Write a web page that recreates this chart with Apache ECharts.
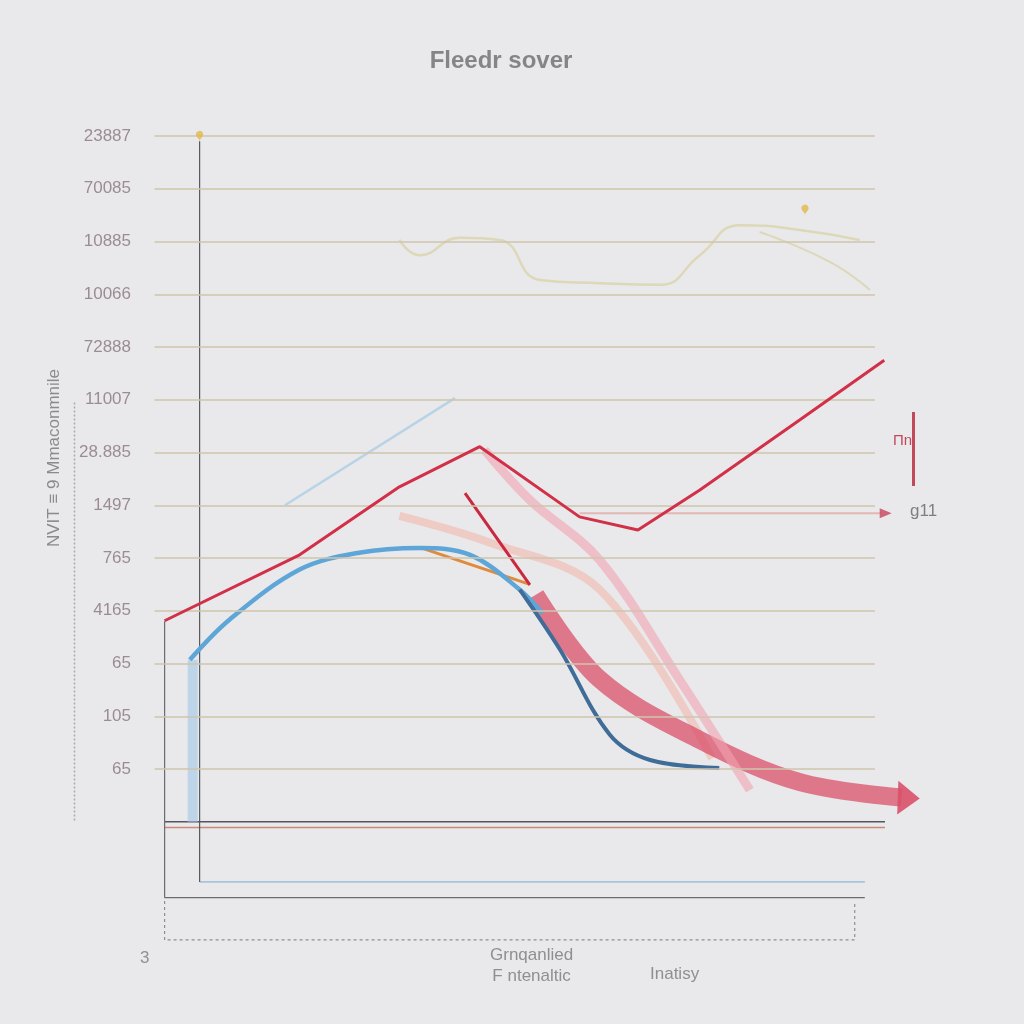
<!DOCTYPE html>
<html><head><meta charset="utf-8">
<script src="https://cdn.jsdelivr.net/npm/echarts@6/dist/echarts.min.js"></script>
<style>html,body{margin:0;padding:0;background:#e9e9eb}#c{width:1024px;height:1024px}</style>
</head><body><div id="c"></div>
<script>
// ---- data ----
const yTickLevels = [1,2,3,4,5,6,7,8,9,10,11,12,13];
const yTickLabels = ['65','105','65','4165','765','1497','28.885','11007','72888','10066','10885','70085','23887'];
const vGridX = [16.1, 25, 35.4, 88.9];

const redX = [0, 18.75, 32.6, 43.75, 57.6, 65.7, 74.3, 88.2, 99.9];
const redY = [3.81, 5.06, 6.35, 7.11, 5.78, 5.53, 6.29, 7.62, 8.75];

const blueX = [3.5, 9, 18.75, 27, 35.4, 42.4, 49.3, 52.5];
const blueY = [3.07, 3.83, 4.78, 5.1, 5.19, 5.06, 4.4, 3.95];
const blueDarkX = [49.3, 54.9, 61.8, 67.4, 77];
const blueDarkY = [4.4, 3.26, 1.65, 1.17, 1.02];

const lightBlueX = [16.7, 40.3];
const lightBlueY = [6.0, 8.03];

const darkRedX = [41.7, 50.7];
const darkRedY = [6.23, 4.49];

const bandX = [51.5, 60.4, 74.3, 88.2, 102.3];
const bandY = [4.3, 2.7, 1.55, 0.75, 0.46];

const pinkX = [44.4, 50.7, 60.4, 71.5, 81.25];
const pinkY = [7.05, 6.1, 4.96, 2.69, 0.6];

const salmonX = [32.6, 45, 60.4, 76];
const salmonY = [5.8, 5.3, 4.4, 1.2];

const orangeX = [35.4, 50.7];
const orangeY = [5.2, 4.5];

const beigeX = [32.6, 35.4, 41, 46.5, 52.1, 60.4, 68.75, 74.3, 79.9, 88.2, 96.5];
const beigeY = [11.03, 10.74, 11.07, 11.03, 10.27, 10.21, 10.18, 10.74, 11.31, 11.22, 11.03];
const beige2X = [82.6, 92.4, 97.9];
const beige2Y = [11.18, 10.61, 10.08];

const arrowLineX = [57.6, 99.5];
const arrowLineY = [5.85, 5.85];

const baseLines = [
  {x:[0, 100], y:[0, 0], color:'#55575c', w:1.6},
  {x:[0, 100], y:[-0.11, -0.11], color:'#c98a7a', w:1.4},
  {x:[4.9, 97.2], y:[-1.14, -1.14], color:'#a9c3dc', w:1.6},
  {x:[0, 97.2], y:[-1.44, -1.44], color:'#6a6c70', w:1.2},
  {x:[4.86, 4.86], y:[-1.14, 12.9], color:'#55575c', w:1.2},
  {x:[0, 0], y:[3.8, -1.44], color:'#6a6c70', w:1.2}
];
const dashedBox = {x:[0, 0, 95.8, 95.8], y:[-1.5, -2.24, -2.24, -1.5]};

// ---- chart ----
const chart = echarts.init(document.getElementById('c'), null, {renderer:'canvas'});
const xy = (xs, ys) => xs.map((v, i) => [v, ys[i]]);
const lineS = (name, xs, ys, color, width, extra) => Object.assign({
  name, type:'line', data: xy(xs, ys), smooth: 0.35, symbol:'none',
  lineStyle:{color, width}, z: 3, silent: true
}, extra || {});

const series = [];
series.push({
  type:'line', data:[], silent:true,
  markLine:{symbol:'none', silent:true, label:{show:false},
    lineStyle:{color:'#cfc5ae', width:1.5, type:'solid'},
    data: yTickLevels.map(v => [{coord:[-1.4, v]}, {coord:[98.6, v]}])
      .concat(vGridX.map(v => [{coord:[v, 13.35], lineStyle:{color:'#d8d3c6', width:1}}, {coord:[v, -1.1], lineStyle:{color:'#d8d3c6', width:1}}]))
  }
});
baseLines.forEach((b, i) => series.push(lineS('base' + i, b.x, b.y, b.color, b.w, {smooth:false, z:2})));
series.push(lineS('box', dashedBox.x, dashedBox.y, '#8d8f94', 1.2, {smooth:false, lineStyle:{color:'#8d8f94', width:1.2, type:[3,3]}}));
series.push(lineS('beige', beigeX, beigeY, '#dcd8b8', 2.5, {smooth:0.5}));
series.push(lineS('beige2', beige2X, beige2Y, '#dcd8b8', 2, {smooth:0.5}));
series.push(lineS('lightblue', lightBlueX, lightBlueY, '#b9d3e6', 2.5, {smooth:false}));
series.push(lineS('arrowline', arrowLineX, arrowLineY, '#e3b7b2', 2, {smooth:false}));
series.push({type:'scatter', data:[[arrowLineX[1] + 0.6, arrowLineY[1]]], symbol:'triangle', symbolRotate:-90, symbolSize:[10,12], itemStyle:{color:'#c8455a'}, z:4, silent:true});
series.push(lineS('bluebar', [3.9, 3.9], [3.07, 0], '#a9cbe8', 10, {smooth:false, lineStyle:{color:'#a9cbe8', width:10, opacity:0.7}}));
series.push(lineS('salmon', salmonX, salmonY, '#f0b9a8', 6, {lineStyle:{color:'#f2b8aa', width:8, opacity:0.6}}));
series.push(lineS('band', bandX, bandY, '#d9506a', 16, {lineStyle:{color:'#d9506a', width:18, opacity:0.75}}));
series.push({type:'scatter', data:[[103.3, 0.45]], symbol:'triangle', symbolRotate:-92, symbolSize:[34,22], itemStyle:{color:'#d9506a', opacity:0.9}, z:4, silent:true});
series.push(lineS('pink', pinkX, pinkY, '#f1a7b4', 8, {lineStyle:{color:'#f1a3b0', width:9, opacity:0.6}}));
series.push(lineS('orange', orangeX, orangeY, '#e08a3c', 3, {smooth:false}));
series.push(lineS('blue', blueX, blueY, '#5ea6d8', 4.5));
series.push(lineS('bluedark', blueDarkX, blueDarkY, '#3f6d98', 4));
series.push(lineS('darkred', darkRedX, darkRedY, '#c8293f', 3, {smooth:false}));
series.push(lineS('red', redX, redY, '#d13048', 3, {smooth:false, z:5}));
series.push({type:'scatter', data:[[4.86, 12.9], [88.9, 11.5]], symbol:'pin', symbolSize:12, itemStyle:{color:'#e2b84a'}, z:6, silent:true});

chart.setOption({
  animation:false,
  backgroundColor:'#e9e9eb',
  title:{text:'Fleedr sover', left:496, top:44, textAlign:'center',
    textStyle:{fontFamily:'Liberation Sans Narrow, Liberation Sans', fontWeight:'bold', fontSize:24, color:'#858587'}},
  grid:{left:143, right:103, top:136, bottom:44},
  xAxis:{type:'value', min:-3, max:105, axisLine:{show:false}, axisTick:{show:false},
    axisLabel:{show:false}, splitLine:{show:false}},
  yAxis:{type:'value', min:-3, max:13, interval:1,
    axisLine:{show:false}, axisTick:{show:false}, splitLine:{show:false},
    name:'NVIT ≡ 9 Mmaconmnile', nameLocation:'middle', nameGap:80, nameRotate:90,
    nameTextStyle:{fontFamily:'Liberation Sans', fontSize:17, color:'#8a8a90', padding:[0,0,0,200]},
    axisLabel:{margin:12, fontFamily:'Liberation Sans', fontSize:17, color:'#9b8c93',
      formatter: v => { const i = yTickLevels.indexOf(v); return i >= 0 ? yTickLabels[i] : ''; }}},
  graphic:[
    {type:'text', left:140, top:950, style:{text:'3', fontFamily:'Liberation Sans', fontSize:17, fill:'#909096'}},
    {type:'text', left:490, top:945, style:{text:'Grnqanlied\nF ntenaltic', fontFamily:'Liberation Sans', fontSize:17, fill:'#8e8e94', textAlign:'center', lineHeight:21}},
    {type:'text', left:650, top:966, style:{text:'Inatisy', fontFamily:'Liberation Sans', fontSize:17, fill:'#8e8e94'}},
    {type:'text', left:910, top:503, style:{text:'g11', fontFamily:'Liberation Sans', fontSize:17, fill:'#7e7e84'}},
    {type:'text', left:893, top:433, style:{text:'Пn', fontFamily:'Liberation Sans', fontSize:15, fill:'#c2485c'}},
    {type:'rect', left:912, top:412, shape:{width:3, height:74}, style:{fill:'#c2485c'}},
    {type:'line', left:72, top:400, shape:{x1:0, y1:0, x2:0, y2:420}, style:{stroke:'#a8a8b8', lineWidth:1.5, lineDash:[2,2]}}
  ],
  series
});
</script></body></html>
